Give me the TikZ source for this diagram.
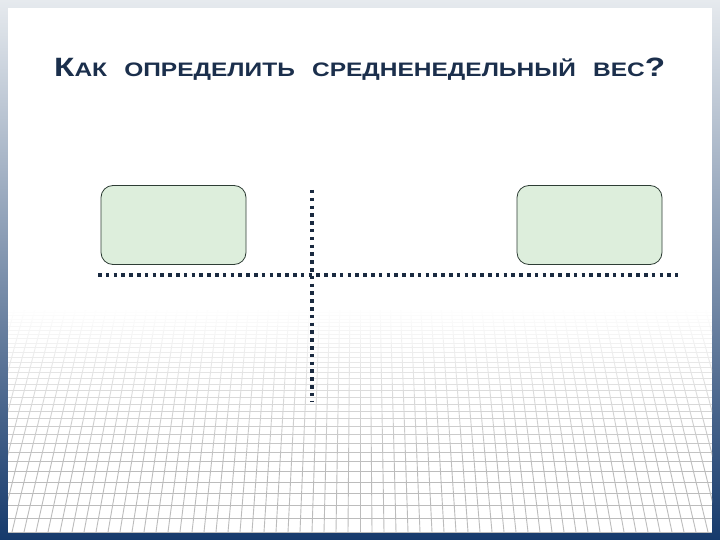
\documentclass[tikz,border=0pt]{standalone}
\usepackage{fontspec}
\newfontfamily\titlefont{Liberation Sans}
\definecolor{navy}{HTML}{1B2F4C}
\definecolor{boxfill}{HTML}{DDEEDC}
\definecolor{boxline}{HTML}{2E3D35}
\definecolor{dotc}{HTML}{1A2A40}
\definecolor{frametop}{HTML}{E6EAEE}
\definecolor{framemid}{HTML}{90A4BC}
\definecolor{framebot}{HTML}{163A6C}
\definecolor{gridc}{HTML}{BCBCBC}
\tikzset{
  greenbox/.style={draw=boxline, line width=0.8pt, fill=boxfill, rounded corners=12pt,
    minimum width=145pt, minimum height=79pt, inner sep=0pt},
  dotline/.style={draw=dotc, line width=3.5pt, dash pattern=on 3.5pt off 4.3pt},
  gridline/.style={draw=gridc, line width=0.9pt}
}
\begin{document}
\begin{tikzpicture}[x=1pt,y=-1pt]
\useasboundingbox (0,0) rectangle (720,540);
% frame
\shade[top color=frametop, middle color=framemid, bottom color=framebot] (0,0) rectangle (720,540);
\fill[white] (8,8) rectangle (712,532);
% perspective grid
\begin{scope}
  \clip (8,300) rectangle (712,532);
  \foreach \k in {-40,...,40} {
    \draw[gridline] ({360+12*\k},532) -- ({360+12*\k*0.84},300);
  }
  \foreach \n in {0,...,34} {
    \pgfmathsetmacro\yy{100+432/(1+0.0324*\n)}
    \draw[gridline] (8,\yy) -- (712,\yy);
  }
\end{scope}
% fade the grid towards the top
\foreach \j in {0,...,33} {
  \pgfmathsetmacro\ya{300+5*\j}
  \pgfmathsetmacro\op{min(1,max(0,(470-\ya-2.5)/160))}
  \fill[white, opacity=\op] (8,\ya) rectangle (712,\ya+5.3);
}
% title
\node[anchor=base west, text=navy, inner sep=0pt] (title) at (54,77)
  {\resizebox{611pt}{\height}{\titlefont\bfseries\fontsize{26.5}{26}\selectfont К\fontsize{19.5}{19}\selectfont АК\hspace{0.7em}ОПРЕДЕЛИТЬ\hspace{0.7em}СРЕДНЕНЕДЕЛЬНЫЙ\hspace{0.7em}ВЕС\fontsize{26.5}{26}\selectfont ?}};
% boxes
\node[greenbox] (left) at (173.5,225) {};
\node[greenbox] (right) at (589.5,225) {};
% dotted cross
\coordinate (h1) at (98,275);
\coordinate (h2) at (678,275);
\coordinate (v1) at (312,190);
\coordinate (v2) at (312,401);
\draw[dotline] (h1) -- (h2);
\draw[dotline] (v1) -- (v2);
\end{tikzpicture}
\end{document}
